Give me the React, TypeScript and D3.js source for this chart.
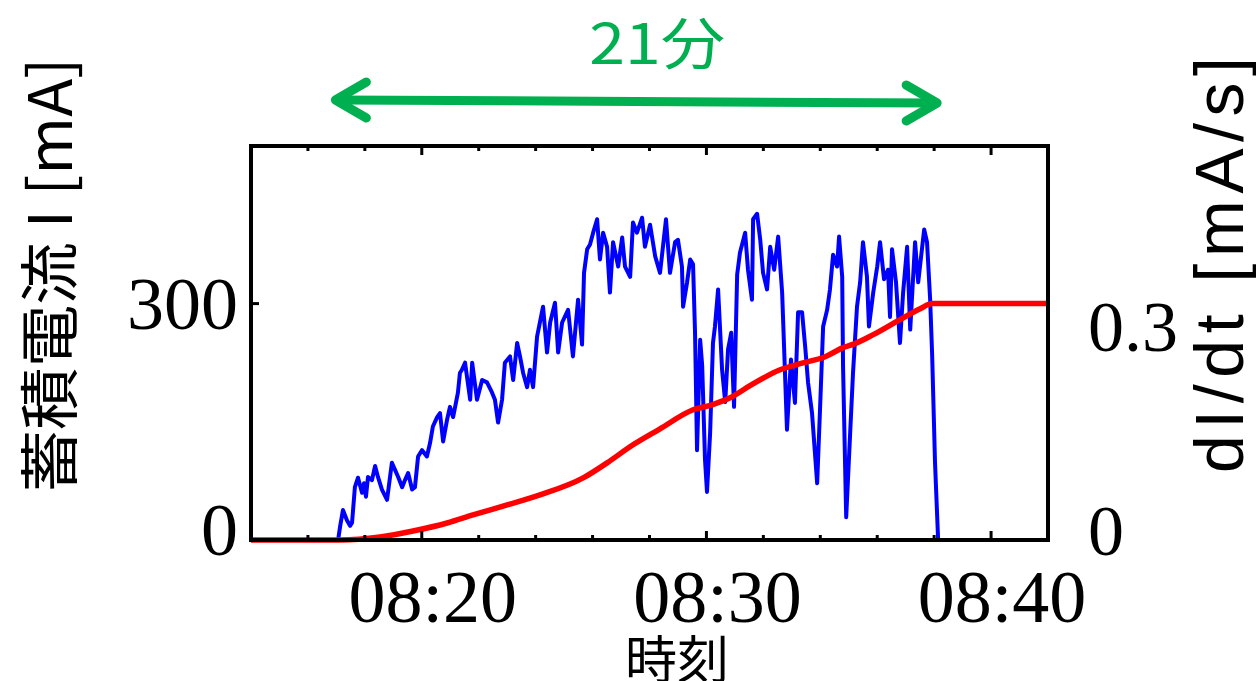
import React, { useEffect, useRef } from "react";
import * as d3 from "d3";

// dI/dt trace (blue, right axis) – minutes after 08:00 and mA/s
const rateMinutes = [
  17.06, 17.13, 17.23, 17.37, 17.48, 17.55, 17.65, 17.76, 17.9, 17.97, 18.04, 18.11, 18.25, 18.36, 18.46, 18.6,
  18.78, 18.95, 19.06, 19.17, 19.31, 19.41, 19.52, 19.66, 19.76, 19.87, 20.01, 20.18, 20.29, 20.39, 20.54, 20.64,
  20.75, 20.89, 20.99, 21.1, 21.27, 21.34, 21.41, 21.52, 21.7, 21.77, 21.94, 22.12, 22.29, 22.47, 22.57, 22.68,
  22.82, 22.92, 23.1, 23.21, 23.35, 23.45, 23.56, 23.7, 23.8, 23.91, 24.05, 24.26, 24.4, 24.51, 24.68, 24.79,
  24.93, 25.14, 25.31, 25.49, 25.63, 25.7, 25.81, 25.91, 26.02, 26.16, 26.26, 26.37, 26.51, 26.61, 26.72, 26.9,
  27.04, 27.14, 27.32, 27.42, 27.56, 27.74, 27.84, 28.02, 28.2, 28.37, 28.58, 28.72, 28.9, 29.0, 29.14, 29.18,
  29.32, 29.43, 29.53, 29.6, 29.67, 29.78, 29.85, 29.95, 30.02, 30.13, 30.23, 30.3, 30.41, 30.55, 30.66, 30.76,
  30.87, 30.97, 31.08, 31.18, 31.36, 31.46, 31.6, 31.64, 31.78, 31.89, 31.99, 32.13, 32.24, 32.38, 32.52, 32.66,
  32.76, 32.83, 32.97, 33.11, 33.22, 33.36, 33.47, 33.57, 33.71, 33.89, 33.99, 34.1, 34.24, 34.34, 34.45, 34.59,
  34.66, 34.77, 34.8, 34.91, 35.05, 35.15, 35.29, 35.4, 35.5, 35.64, 35.71, 35.86, 36.0, 36.1, 36.24, 36.38,
  36.45, 36.52, 36.66, 36.8, 36.91, 37.05, 37.16, 37.33, 37.44, 37.58, 37.65, 37.75, 37.86, 37.93, 38.03, 38.14,
];
const rateValues = [
  0, 0.017, 0.038, 0.025, 0.018, 0.022, 0.067, 0.079, 0.06, 0.072, 0.055, 0.08, 0.076, 0.094, 0.08, 0.064,
  0.051, 0.098, 0.089, 0.08, 0.067, 0.076, 0.085, 0.064, 0.067, 0.106, 0.114, 0.106, 0.123, 0.144, 0.156, 0.161,
  0.125, 0.153, 0.169, 0.156, 0.187, 0.212, 0.216, 0.225, 0.178, 0.225, 0.178, 0.203, 0.2, 0.187, 0.178, 0.149,
  0.178, 0.225, 0.233, 0.203, 0.25, 0.233, 0.212, 0.194, 0.216, 0.194, 0.258, 0.296, 0.238, 0.276, 0.301, 0.238,
  0.276, 0.292, 0.233, 0.305, 0.248, 0.339, 0.369, 0.375, 0.39, 0.407, 0.356, 0.39, 0.372, 0.314, 0.378, 0.347,
  0.384, 0.347, 0.334, 0.403, 0.39, 0.409, 0.372, 0.4, 0.36, 0.339, 0.407, 0.339, 0.378, 0.381, 0.347, 0.296,
  0.327, 0.356, 0.35, 0.263, 0.114, 0.254, 0.222, 0.102, 0.061, 0.136, 0.25, 0.271, 0.318, 0.216, 0.175, 0.242,
  0.263, 0.169, 0.337, 0.365, 0.39, 0.343, 0.305, 0.407, 0.414, 0.381, 0.339, 0.318, 0.372, 0.343, 0.385, 0.314,
  0.212, 0.14, 0.229, 0.174, 0.289, 0.289, 0.245, 0.2, 0.161, 0.072, 0.165, 0.271, 0.292, 0.318, 0.362, 0.347,
  0.385, 0.334, 0.22, 0.029, 0.136, 0.212, 0.296, 0.327, 0.378, 0.334, 0.271, 0.314, 0.347, 0.378, 0.331, 0.343,
  0.283, 0.369, 0.327, 0.25, 0.314, 0.372, 0.267, 0.378, 0.327, 0.372, 0.394, 0.378, 0.305, 0.235, 0.099, 0,
];

// accumulated current I (red, left axis) – minutes after 08:00 and mA
const chargeMinutes = [
  14.0, 17.13, 18.53, 19.69, 20.89, 21.8, 23.0, 24.15, 25.67, 26.51, 27.42, 28.37, 29.53,
  30.2, 30.83, 31.53, 32.59, 33.29, 34.17, 34.8, 35.22, 35.86, 36.8, 37.51, 37.93, 42.0,
];
const chargeValues = [
  0, 0, 3.8, 11.4, 21.6, 31.8, 44.5, 57.2, 78.8, 97.9, 120.8, 141.1, 165.3,
  171.6, 180.5, 195.8, 216.1, 223.7, 232.6, 244.1, 249.2, 260.6, 279.7, 293.6, 300, 300,
];

const timeRange = ["08:14", "08:42"];
const timeTickLabels = ["08:20", "08:30", "08:40"];
const leftTicks = [0, 300];
const rightTicks = [0, 0.3];
const arrowSpan = ["08:17", "08:38"];
const arrowLabel = "21分";

const App = () => {
  const svgRef = useRef<SVGSVGElement>(null);

  useEffect(() => {
    const svg = d3.select(svgRef.current);
    svg.selectAll("*").remove();

    const W = 1256;
    const H = 681;
    const margin = { top: 146, right: 208, bottom: 141, left: 251 };
    const width = W - margin.left - margin.right;
    const height = H - margin.top - margin.bottom;
    const blue = "#0000FF";
    const red = "#FF0000";
    const green = "#00B050";
    const serif = "'Liberation Serif', 'Times New Roman', serif";
    const cjk = "'Noto Sans CJK JP', 'Noto Sans', sans-serif";

    svg.attr("width", W).attr("height", H);

    const parseTime = d3.timeParse("%Y-%m-%d %H:%M");
    const t = (s: string) => parseTime("2000-01-01 " + s) as Date;
    const fromMinutes = (m: number) => new Date(t("08:00").getTime() + m * 60000);

    const x = d3
      .scaleTime()
      .domain([t(timeRange[0]), t(timeRange[1])])
      .range([margin.left, margin.left + width]);
    const yLeft = d3.scaleLinear().domain([0, 500]).range([margin.top + height, margin.top]);
    const yRight = d3.scaleLinear().domain([0, 0.5]).range([margin.top + height, margin.top]);

    const rateData = rateMinutes.map((m, i) => ({ date: fromMinutes(m), v: rateValues[i] }));
    const chargeData = chargeMinutes.map((m, i) => ({ date: fromMinutes(m), v: chargeValues[i] }));

    // Lines
    const rateLine = d3
      .line<{ date: Date; v: number }>()
      .x((d) => x(d.date))
      .y((d) => yRight(d.v));
    const chargeLine = d3
      .line<{ date: Date; v: number }>()
      .x((d) => x(d.date))
      .y((d) => yLeft(d.v))
      .curve(d3.curveMonotoneX);

    svg
      .append("path")
      .datum(rateData)
      .attr("d", rateLine)
      .attr("fill", "none")
      .attr("stroke", blue)
      .attr("stroke-width", 4)
      .attr("stroke-linejoin", "round");

    svg
      .append("path")
      .datum(chargeData)
      .attr("d", chargeLine)
      .attr("fill", "none")
      .attr("stroke", red)
      .attr("stroke-width", 5.5)
      .attr("stroke-linejoin", "round");

    // Frame
    svg
      .append("rect")
      .attr("x", margin.left)
      .attr("y", margin.top)
      .attr("width", width)
      .attr("height", height)
      .attr("fill", "none")
      .attr("stroke", "black")
      .attr("stroke-width", 4);

    // X ticks, bottom and top, inward
    const minorTicks = x.ticks(d3.timeMinute.every(2) as any);
    const majorSet = new Set(timeTickLabels.map((s) => t(s).getTime()));
    const tickG = svg.append("g").attr("stroke", "black").attr("stroke-width", 3);
    minorTicks.forEach((d) => {
      const len = majorSet.has(d.getTime()) ? 9 : 5;
      const px = x(d);
      if (px <= margin.left + 2 || px >= margin.left + width - 2) return;
      tickG.append("line").attr("x1", px).attr("x2", px)
        .attr("y1", margin.top + height).attr("y2", margin.top + height - len);
      tickG.append("line").attr("x1", px).attr("x2", px)
        .attr("y1", margin.top).attr("y2", margin.top + len);
    });
    leftTicks.filter((v) => v > 0).forEach((v) => {
      tickG.append("line")
        .attr("x1", margin.left).attr("x2", margin.left + 8)
        .attr("y1", yLeft(v)).attr("y2", yLeft(v));
    });

    // Tick labels
    timeTickLabels.forEach((s) => {
      svg.append("text")
        .attr("x", x(t(s)) + 11)
        .attr("y", margin.top + height + 82)
        .attr("text-anchor", "middle")
        .style("font-family", serif)
        .style("font-size", "74px")
        .text(s);
    });

    const leftLabelY = d3.scaleLinear().domain([0, 300]).range([yLeft(0) + 15, yLeft(300) + 25]);
    leftTicks.forEach((v) => {
      svg.append("text")
        .attr("x", margin.left - 13)
        .attr("y", leftLabelY(v))
        .attr("text-anchor", "end")
        .style("font-family", serif)
        .style("font-size", "74px")
        .text(d3.format("d")(v));
    });

    const rightLabelY = d3.scaleLinear().domain([0, 0.3]).range([yRight(0) + 15, yRight(0.3) + 47]);
    rightTicks.forEach((v) => {
      svg.append("text")
        .attr("x", margin.left + width + 40)
        .attr("y", rightLabelY(v))
        .attr("text-anchor", "start")
        .style("font-family", serif)
        .style("font-size", "72px")
        .text(v === 0 ? "0" : String(v));
    });

    // Axis titles
    svg.append("text")
      .attr("transform", `translate(45, 275) rotate(-90)`)
      .attr("text-anchor", "middle")
      .attr("dominant-baseline", "central")
      .attr("textLength", 435)
      .attr("lengthAdjust", "spacingAndGlyphs")
      .style("font-family", cjk)
      .style("font-size", "60px")
      .text("蓄積電流 I [mA]");

    svg.append("text")
      .attr("transform", `translate(1219, 265) rotate(-90)`)
      .attr("text-anchor", "middle")
      .attr("dominant-baseline", "central")
      .attr("textLength", 416)
      .attr("lengthAdjust", "spacing")
      .style("font-family", "'Liberation Sans', Arial, sans-serif")
      .style("font-size", "68px")
      .text("dI/dt [mA/s]");

    svg.append("text")
      .attr("x", 677)
      .attr("y", 679)
      .attr("text-anchor", "middle")
      .style("font-family", cjk)
      .style("font-size", "52px")
      .text("時刻");

    // 21-minute arrow
    const ax0 = x(t(arrowSpan[0])) - 3;
    const ax1 = x(t(arrowSpan[1])) + 5;
    const ay0 = 100;
    const ay1 = 103;
    const arrowG = svg.append("g")
      .attr("stroke", green)
      .attr("stroke-width", 9)
      .attr("stroke-linecap", "round")
      .attr("stroke-linejoin", "round")
      .attr("fill", "none");
    arrowG.append("path").attr("d", `M${ax0 + 4},${ay0} L${ax1 - 4},${ay1}`);
    arrowG.append("path").attr("d", `M${ax0 + 33},${ay0 - 18} L${ax0 + 2},${ay0} L${ax0 + 33},${ay0 + 18}`);
    arrowG.append("path").attr("d", `M${ax1 - 33},${ay1 - 18} L${ax1 - 2},${ay1} L${ax1 - 33},${ay1 + 18}`);

    svg.append("text")
      .attr("x", (ax0 + ax1) / 2 + 21)
      .attr("y", 64)
      .attr("text-anchor", "middle")
      .attr("fill", green)
      .attr("textLength", 136)
      .attr("lengthAdjust", "spacingAndGlyphs")
      .style("font-family", cjk)
      .style("font-size", "56px")
      .text(arrowLabel);
  }, []);

  return (
    <div>
      <svg ref={svgRef} style={{ position: "absolute", left: 0, top: 0, background: "white" }}></svg>
    </div>
  );
};

export default App;
